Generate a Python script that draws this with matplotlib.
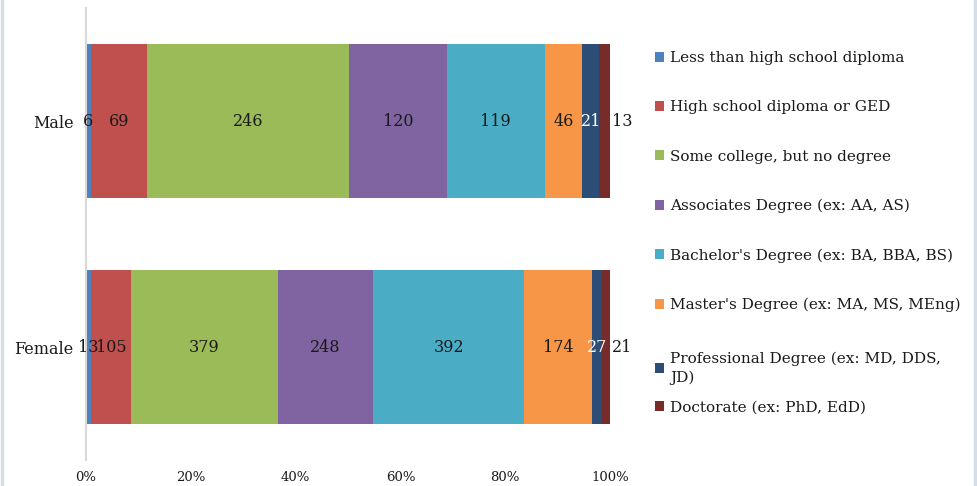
import matplotlib.pyplot as plt
from matplotlib.lines import Line2D
import numpy as np

plt.rcParams['font.family'] = ['DejaVu Serif']

groups = ["Female", "Male"]
levels = ["Less than high school diploma",
          "High school diploma or GED",
          "Some college, but no degree",
          "Associates Degree (ex: AA, AS)",
          "Bachelor's Degree (ex: BA, BBA, BS)",
          "Master's Degree (ex: MA, MS, MEng)",
          "Professional Degree (ex: MD, DDS,\nJD)",
          "Doctorate (ex: PhD, EdD)"]
female = [13, 105, 379, 248, 392, 174, 27, 21]
male = [6, 69, 246, 120, 119, 46, 21, 13]
colors = ["#4F81BD", "#C0504D", "#9BBB59", "#8064A2",
          "#4BACC6", "#F79646", "#2C4D75", "#772C2A"]
label_colors = ["#1a1a1a"] * 6 + ["white", "#1a1a1a"]

counts = np.array([female, male], dtype=float)
shares = counts / counts.sum(axis=1, keepdims=True)

fig = plt.figure(figsize=(9.77, 4.86), dpi=100)
ax = fig.add_axes([0.088, 0.0535, 0.5364, 0.93])

y = np.arange(len(groups))
left = np.zeros(len(groups))
bars = []
for i, name in enumerate(levels):
    b = ax.barh(y, shares[:, i], 0.685, left=left, color=colors[i], label=name)
    bars.append(b)
    for j in range(len(groups)):
        if i == len(levels) - 1:
            # narrow last segment: label sits just outside the bar
            ax.text(1.004, y[j], "%d" % counts[j, i], ha="left", va="center",
                    fontsize=11.5, color=label_colors[i])
        else:
            ax.text(left[j] + shares[j, i] / 2, y[j], "%d" % counts[j, i],
                    ha="center", va="center", fontsize=11.5, color=label_colors[i])
    left += shares[:, i]

ax.set_xlim(0, 1)
ax.set_ylim(-0.5, 1.5)
ax.set_yticks(y)
ax.set_yticklabels(groups, fontsize=11.5, color="#1a1a1a")
ax.set_xticks(np.linspace(0, 1, 6))
ax.set_xticklabels(["0%", "20%", "40%", "60%", "80%", "100%"], fontsize=9.5,
                   color="#1a1a1a")
ax.tick_params(axis="both", length=0)
ax.tick_params(axis="x", pad=8)
ax.tick_params(axis="y", pad=9)
for side in ["top", "right", "bottom"]:
    ax.spines[side].set_visible(False)
ax.spines["left"].set_color("#d9d9d9")
ax.spines["left"].set_linewidth(1.5)

# legend in two parts so the wrapped entry keeps Excel-like spacing
leg_kw = dict(loc="upper left", frameon=False, fontsize=11, handlelength=0.6,
              handleheight=0.6, handletextpad=0.4, borderaxespad=0,
              labelcolor="#1a1a1a")
fig.legend(bars[:6], levels[:6], bbox_to_anchor=(0.664, 0.907),
           labelspacing=2.3, **leg_kw)
leg2 = fig.legend(bars[6:], levels[6:], bbox_to_anchor=(0.664, 0.29),
                  labelspacing=1.0, **leg_kw)
leg2.get_texts()[0].set_linespacing(1.45)

for xe in [0.002, 0.998]:
    fig.add_artist(Line2D([xe, xe], [0, 1], transform=fig.transFigure,
                          color="#d6dde6", lw=2.5))

fig.savefig("out.png", dpi=100)
